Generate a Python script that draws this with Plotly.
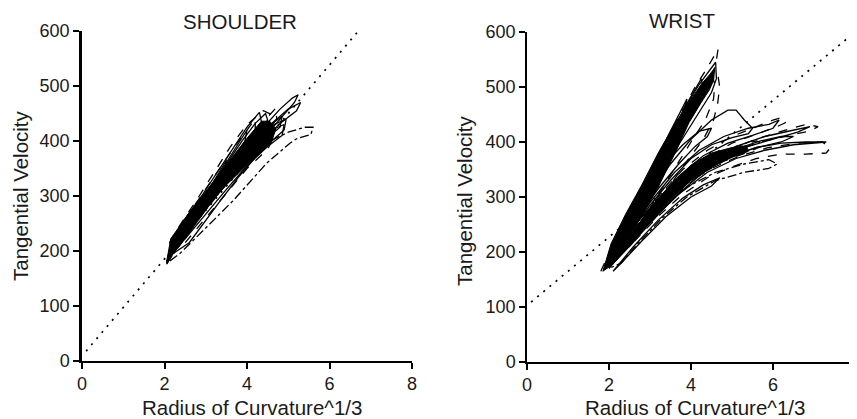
import plotly.graph_objects as go

# ---------------- data ----------------
x_ticks = [0, 2, 4, 6, 8]
y_ticks = [0, 100, 200, 300, 400, 500, 600]
x_title = "Radius of Curvature^1/3"
y_title = "Tangential Velocity"
panel_titles = ["SHOULDER", "WRIST"]

# dotted reference lines
shoulder_ref_x = [0.1, 6.7]
shoulder_ref_y = [18, 600]
wrist_ref_x = [0.1, 8.0]
wrist_ref_y = [109, 600]

# dense core outlines
shoulder_core_x = [2.05, 2.15, 2.55, 3.03, 3.5, 4.0, 4.35, 4.55, 4.7, 4.6, 4.45, 4.0, 3.5, 2.86, 2.38, 2.06, 2.05]
shoulder_core_y = [180, 222, 265, 312, 358, 405, 436, 436, 422, 400, 390, 356, 320, 266, 218, 176, 180]

wrist_core_up_x = [1.85, 2.05, 2.4, 2.8, 3.2, 3.6, 3.95, 4.25, 4.45, 4.58, 4.55, 4.45, 4.25, 3.95, 3.6, 3.2, 2.8, 2.4, 2.1, 1.85]
wrist_core_up_y = [165, 215, 268, 322, 380, 432, 472, 505, 522, 535, 512, 495, 472, 435, 378, 318, 265, 218, 178, 165]
wrist_core_lo_x = [2.1, 2.5, 3.0, 3.5, 4.0, 4.5, 5.0, 5.35, 5.4, 5.0, 4.5, 4.0, 3.5, 3.0, 2.5, 2.1]
wrist_core_lo_y = [178, 228, 280, 322, 358, 380, 390, 393, 383, 372, 355, 330, 295, 255, 210, 178]

# individual trial loops, shoulder
shoulder_loops = [
    ([2.08, 2.3, 2.7, 3.1, 3.5, 3.9, 4.2, 4.45, 4.5, 4.2, 3.8, 3.4, 3.0, 2.6, 2.25, 2.08],
     [190, 222, 265, 312, 358, 402, 432, 450, 438, 410, 370, 326, 285, 243, 205, 190]),
    ([2.1, 2.5, 2.9, 3.4, 3.9, 4.4, 4.8, 5.1, 5.24, 5.15, 4.8, 4.4, 3.9, 3.4, 2.9, 2.45, 2.1],
     [186, 232, 278, 330, 380, 425, 458, 478, 484, 470, 440, 405, 362, 318, 270, 222, 186]),
    ([2.06, 2.5, 3.0, 3.5, 4.0, 4.5, 5.0, 5.4, 5.6, 5.55, 5.2, 5.04, 4.48, 3.67, 3.03, 2.38, 2.06],
     [178, 225, 275, 322, 365, 398, 416, 425, 425, 412, 404, 396, 360, 292, 244, 196, 178]),
    ([2.15, 2.5, 2.9, 3.3, 3.7, 4.0, 3.95, 3.6, 3.2, 2.8, 2.4, 2.15],
     [200, 245, 290, 337, 385, 420, 400, 358, 315, 272, 228, 200]),
    ([2.2, 2.6, 3.0, 3.5, 4.0, 4.4, 4.7, 4.72, 4.5, 4.1, 3.6, 3.1, 2.6, 2.2],
     [210, 258, 302, 352, 398, 435, 460, 440, 418, 385, 342, 295, 245, 210]),
    ([2.1, 2.6, 3.1, 3.6, 4.1, 4.6, 4.9, 4.85, 4.5, 4.0, 3.5, 3.0, 2.5, 2.1],
     [195, 245, 296, 345, 390, 420, 430, 410, 390, 355, 312, 268, 222, 195]),
    ([2.2, 2.5, 2.9, 3.3, 3.7, 4.0, 4.3, 4.35, 4.1, 3.7, 3.3, 2.9, 2.5, 2.2],
     [222, 258, 300, 345, 390, 425, 452, 435, 408, 366, 322, 280, 238, 222]),
    ([2.3, 2.7, 3.2, 3.7, 4.2, 4.6, 4.5, 4.0, 3.5, 3.0, 2.5, 2.3],
     [205, 248, 300, 348, 385, 400, 385, 350, 305, 260, 215, 205]),
    ([2.15, 2.6, 3.1, 3.6, 4.1, 4.6, 5.0, 5.3, 5.2, 4.8, 4.3, 3.8, 3.3, 2.8, 2.4, 2.15],
     [190, 240, 292, 342, 390, 432, 458, 470, 455, 432, 395, 352, 305, 258, 215, 190]),
    ([2.05, 2.4, 2.9, 3.4, 3.9, 4.4, 4.85, 4.8, 4.4, 3.9, 3.4, 2.9, 2.4, 2.05],
     [182, 220, 272, 325, 376, 420, 445, 425, 400, 360, 315, 265, 213, 182]),
    ([2.1, 2.5, 3.0, 3.5, 3.45, 3.0, 2.5, 2.1],
     [190, 240, 300, 365, 345, 285, 228, 190]),
    ([2.25, 2.7, 3.2, 3.7, 4.2, 4.2, 3.8, 3.3, 2.8, 2.25],
     [230, 280, 335, 390, 440, 420, 382, 330, 275, 230]),
    ([2.12, 2.4, 2.8, 3.2, 3.6, 4.0, 4.4, 4.6, 4.55, 4.2, 3.8, 3.4, 3.0, 2.6, 2.3, 2.12],
     [215, 250, 295, 342, 390, 430, 455, 448, 430, 398, 360, 318, 278, 238, 205, 215]),
    ([2.2, 2.6, 3.0, 3.4, 3.8, 4.2, 4.6, 4.95, 4.9, 4.6, 4.2, 3.8, 3.4, 3.0, 2.6, 2.2],
     [195, 238, 282, 325, 365, 400, 428, 440, 420, 400, 370, 335, 296, 255, 215, 195]),
]
shoulder_dash = ["solid", "solid", "dashdot", "solid", "dash", "solid",
                 "solid", "dash", "solid", "solid", "solid", "dash", "dash", "solid"]

# individual trial loops, wrist
wrist_loops = [
    ([1.8, 2.2, 2.7, 3.2, 3.7, 4.1, 4.4, 4.66, 4.6, 4.45, 4.2, 3.8, 3.3, 2.8, 2.3, 1.8],
     [165, 230, 300, 375, 445, 500, 535, 569, 540, 505, 470, 420, 355, 290, 222, 165]),
    ([1.9, 2.3, 2.8, 3.3, 3.8, 4.2, 4.6, 4.62, 4.5, 4.2, 3.7, 3.2, 2.7, 2.2, 1.9],
     [175, 240, 310, 385, 455, 505, 545, 515, 490, 455, 395, 330, 268, 205, 175]),
    ([2.0, 2.4, 2.9, 3.4, 3.9, 4.25, 4.3, 4.0, 3.5, 3.0, 2.5, 2.0],
     [200, 255, 325, 400, 470, 515, 495, 455, 385, 315, 250, 200]),
    ([1.95, 2.4, 2.9, 3.4, 3.9, 4.3, 4.5, 4.58, 4.55, 4.35, 4.0, 3.5, 3.0, 2.5, 1.95],
     [185, 250, 318, 390, 458, 505, 525, 505, 478, 440, 400, 340, 280, 225, 185]),
    ([2.1, 2.6, 3.1, 3.6, 4.1, 4.45, 4.65, 4.7, 4.65, 4.55, 4.3, 3.8, 3.3, 2.8, 2.3, 2.1],
     [190, 262, 335, 405, 470, 510, 525, 500, 470, 440, 405, 355, 300, 245, 200, 190]),
    ([2.05, 2.5, 3.0, 3.5, 3.9, 3.85, 3.4, 2.9, 2.4, 2.05],
     [205, 270, 345, 420, 478, 455, 390, 320, 255, 205]),
    ([2.0, 2.5, 3.0, 3.5, 4.0, 4.5, 4.9, 5.1, 5.3, 5.5, 5.4, 5.0, 4.5, 4.0, 3.5, 3.0, 2.5, 2.0],
     [190, 250, 305, 360, 405, 440, 458, 458, 440, 425, 415, 408, 395, 370, 330, 285, 235, 190]),
    ([2.1, 2.6, 3.2, 3.8, 4.4, 5.0, 5.6, 6.0, 6.25, 6.3, 6.1, 5.6, 5.0, 4.4, 3.8, 3.2, 2.6, 2.1],
     [185, 240, 300, 350, 385, 410, 428, 440, 445, 435, 428, 415, 398, 372, 335, 290, 232, 185]),
    ([2.0, 2.5, 3.1, 3.8, 4.5, 5.2, 5.9, 6.6, 7.2, 7.4, 7.3, 6.8, 6.2, 5.6, 5.0, 4.4, 3.8, 3.2, 2.6, 2.0],
     [175, 225, 275, 320, 352, 375, 390, 398, 400, 390, 380, 378, 378, 370, 355, 335, 305, 265, 218, 175]),
    ([2.2, 2.8, 3.5, 4.2, 4.9, 5.6, 6.2, 6.8, 7.3, 6.5, 5.8, 5.1, 4.4, 3.7, 3.0, 2.4, 2.2],
     [190, 245, 300, 345, 372, 390, 398, 400, 400, 395, 385, 370, 345, 305, 255, 205, 190]),
    ([2.1, 2.7, 3.3, 4.0, 4.7, 5.4, 6.0, 6.5, 6.8, 7.1, 6.9, 6.4, 5.8, 5.2, 4.5, 3.8, 3.1, 2.5, 2.1],
     [180, 240, 292, 340, 375, 400, 415, 425, 432, 428, 420, 412, 402, 388, 362, 325, 275, 220, 180]),
    ([2.3, 2.9, 3.6, 4.3, 5.0, 5.7, 6.2, 6.5, 6.2, 5.6, 5.0, 4.3, 3.6, 2.9, 2.3],
     [200, 255, 310, 355, 385, 402, 410, 410, 400, 390, 375, 345, 300, 245, 200]),
    ([2.0, 2.6, 3.2, 3.9, 4.6, 5.3, 5.9, 6.1, 5.9, 5.3, 4.6, 3.9, 3.3, 2.7, 2.3, 2.0],
     [170, 225, 275, 318, 345, 360, 368, 360, 352, 345, 330, 300, 262, 215, 180, 170]),
    ([2.2, 2.8, 3.4, 4.0, 4.6, 5.1, 5.6, 5.8, 5.4, 4.8, 4.2, 3.6, 3.0, 2.5, 2.2],
     [195, 255, 310, 350, 375, 392, 402, 395, 382, 365, 340, 300, 252, 210, 195]),
    ([2.4, 3.0, 3.7, 4.4, 5.1, 5.8, 6.4, 6.9, 6.6, 6.0, 5.4, 4.7, 4.0, 3.3, 2.7, 2.4],
     [220, 275, 325, 365, 392, 410, 420, 428, 418, 405, 392, 370, 338, 290, 240, 220]),
    ([2.1, 2.6, 3.2, 3.8, 4.3, 4.7, 4.5, 4.0, 3.4, 2.8, 2.3, 2.1],
     [165, 210, 258, 298, 322, 335, 320, 300, 265, 220, 180, 165]),
    ([2.4, 3.0, 3.6, 4.2, 4.8, 5.4, 5.9, 6.15, 6.0, 5.5, 4.9, 4.3, 3.7, 3.1, 2.4],
     [230, 290, 345, 385, 410, 425, 432, 440, 425, 412, 398, 375, 338, 288, 230]),
    ([2.3, 2.8, 3.3, 3.8, 4.2, 4.5, 4.4, 4.1, 3.7, 3.2, 2.7, 2.3],
     [240, 300, 355, 395, 420, 425, 410, 392, 360, 315, 265, 240]),
]
wrist_dash = ["dash", "solid", "solid", "dash", "dash", "solid", "solid", "dash",
              "dash", "solid", "dash", "solid", "dashdot", "dash", "solid", "solid", "solid", "solid"]

# ---------------- figure ----------------
FONT = "Arial, Liberation Sans, Helvetica, sans-serif"
TXT = "#1a1a1a"
W, H = 849, 411          # page body adds an 8px margin; this keeps the chart inside the 857x419 view
OFF = 8                  # offset of the plot div inside the page


def px_x(p):
    return (p - OFF) / W


def px_y(p):
    return 1 - (p - OFF) / H


fig = go.Figure()


def core(xs, ys, xa, ya):
    fig.add_trace(go.Scatter(x=xs, y=ys, mode="lines", fill="toself", fillcolor="black",
                             line=dict(color="black", width=1), xaxis=xa, yaxis=ya,
                             hoverinfo="skip"))


core(shoulder_core_x, shoulder_core_y, "x", "y")
for (lx, ly), d in zip(shoulder_loops, shoulder_dash):
    fig.add_trace(go.Scatter(x=lx, y=ly, mode="lines", line=dict(color="black", width=1.3, dash=d),
                             xaxis="x", yaxis="y"))
fig.add_trace(go.Scatter(x=shoulder_ref_x, y=shoulder_ref_y, mode="lines",
                         line=dict(color="black", width=1.7, dash="2px,6px"), xaxis="x", yaxis="y"))

core(wrist_core_up_x, wrist_core_up_y, "x2", "y2")
core(wrist_core_lo_x, wrist_core_lo_y, "x2", "y2")
for (lx, ly), d in zip(wrist_loops, wrist_dash):
    fig.add_trace(go.Scatter(x=lx, y=ly, mode="lines", line=dict(color="black", width=1.3, dash=d),
                             xaxis="x2", yaxis="y2"))
fig.add_trace(go.Scatter(x=wrist_ref_x, y=wrist_ref_y, mode="lines",
                         line=dict(color="black", width=1.7, dash="2px,6px"), xaxis="x2", yaxis="y2"))

axis_common = dict(showline=True, linecolor="black", linewidth=1.5, ticks="outside", ticklen=6,
                   tickwidth=1.5, tickcolor="black", showgrid=False, zeroline=False,
                   automargin=False, ticklabeloverflow="allow",
                   tickfont=dict(family=FONT, size=18, color=TXT), fixedrange=True)

fig.update_layout(
    width=W, height=H,
    margin=dict(l=0, r=0, t=0, b=0, autoexpand=False),
    paper_bgcolor="white", plot_bgcolor="white",
    showlegend=False,
    xaxis=dict(domain=[px_x(82), px_x(412)], range=[0, 8], tickvals=x_ticks, anchor="y", **axis_common),
    yaxis=dict(domain=[px_y(361), px_y(31)], range=[0, 600], tickvals=y_ticks, anchor="x",
               **{**axis_common, "linewidth": 2.5}),
    xaxis2=dict(domain=[px_x(527), min(1.0, px_x(855))], range=[0, 8], tickvals=x_ticks, anchor="y2",
                **axis_common),
    yaxis2=dict(domain=[px_y(362), px_y(32)], range=[0, 600], tickvals=y_ticks, anchor="x2", **axis_common),
)

ann_font = dict(family=FONT, size=20.5, color=TXT)
annotations = [
    dict(text=panel_titles[0], x=px_x(240), y=px_y(22)),
    dict(text=panel_titles[1], x=px_x(682), y=px_y(21)),
    dict(text=x_title, x=px_x(252), y=px_y(407)),
    dict(text=x_title, x=px_x(695), y=px_y(407)),
    dict(text=y_title, x=px_x(20), y=px_y(196), textangle=-90),
    dict(text=y_title, x=px_x(464), y=px_y(201), textangle=-90),
]
for a in annotations:
    fig.add_annotation(xref="paper", yref="paper", xanchor="center", yanchor="middle",
                       showarrow=False, font=ann_font, **a)

fig.write_html("out.html")
